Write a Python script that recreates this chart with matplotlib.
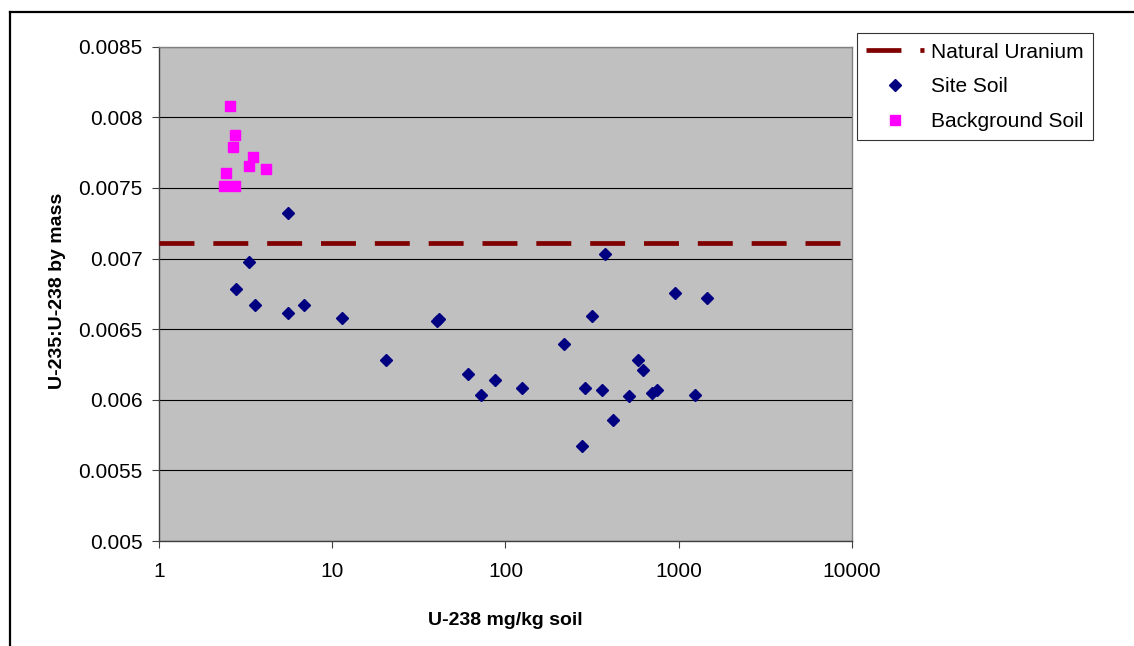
import matplotlib
matplotlib.use("Agg")
from matplotlib import pyplot as plt
from matplotlib.lines import Line2D

plt.rcParams['font.family'] = ['Liberation Sans', 'DejaVu Sans']

# dados
natural_ratio = 0.00711

site_u238 = [2.78, 3.30, 3.59, 5.56, 5.56, 6.87, 11.4, 20.5, 40.5, 41.5,
             60.5, 71.9, 87.4, 123.8, 218, 278, 289, 315, 360, 376,
             418, 519, 580, 620, 703, 752, 955, 1240, 1448]
site_ratio = [0.006786, 0.006973, 0.00667, 0.00732, 0.006616, 0.00667, 0.00658, 0.006279, 0.006555, 0.00657,
              0.006184, 0.006035, 0.00614, 0.00608, 0.006392, 0.005674, 0.00608, 0.00659, 0.006069, 0.007032,
              0.005858, 0.006024, 0.006279, 0.006208, 0.006045, 0.00607, 0.006753, 0.006033, 0.006718]

bg_u238 = [2.56, 2.74, 2.68, 3.48, 3.33, 4.13, 2.45, 2.36, 2.74]
bg_ratio = [0.00808, 0.007875, 0.00779, 0.00772, 0.007653, 0.007632, 0.007606, 0.007513, 0.007513]

x_ticks = [1, 10, 100, 1000, 10000]
x_labels = ['1', '10', '100', '1000', '10000']
y_ticks = [0.005, 0.0055, 0.006, 0.0065, 0.007, 0.0075, 0.008, 0.0085]
y_labels = ['0.005', '0.0055', '0.006', '0.0065', '0.007', '0.0075', '0.008', '0.0085']

fig = plt.figure(figsize=(11.34, 6.46), dpi=100)
ax = fig.add_axes([0.1402, 0.1625, 0.6111, 0.7652])
ax.set_facecolor('#C0C0C0')

# linha do uranio natural
ax.axhline(natural_ratio, color='#800000', linewidth=3.4, dashes=(7.4, 4.0),
           solid_capstyle='butt', dash_capstyle='butt', label='Natural Uranium', zorder=3)
ax.plot(site_u238, site_ratio, linestyle='none', marker='D', markersize=6.3,
        color='#000080', label='Site Soil', zorder=4)
ax.plot(bg_u238, bg_ratio, linestyle='none', marker='s', markersize=7.2,
        color='#FF00FF', label='Background Soil', zorder=4)

ax.set_xscale('log')
ax.set_xlim(1, 10000)
ax.set_ylim(0.005, 0.0085)
ax.set_xticks(x_ticks)
ax.set_xticklabels(x_labels)
ax.minorticks_off()
ax.set_yticks(y_ticks)
ax.set_yticklabels(y_labels)
ax.tick_params(axis='both', labelsize=15, length=5, width=0.8, color='#404040')
ax.tick_params(axis='y', pad=7)
ax.tick_params(axis='x', pad=10)

ax.grid(axis='y', color='black', linewidth=0.8)
ax.set_axisbelow(True)
for s in ['left', 'bottom']:
    ax.spines[s].set_color('#404040')
    ax.spines[s].set_linewidth(1.0)
for s in ['top', 'right']:
    ax.spines[s].set_color('#808080')
    ax.spines[s].set_linewidth(1.0)

fig.text(0.4458, 0.0402, 'U-238 mg/kg soil', ha='center', va='center',
         fontsize=14, fontweight='bold')
fig.text(0.0503, 0.5495, 'U-235:U-238 by mass', ha='center', va='center',
         rotation=90, fontsize=14, fontweight='bold')

leg = fig.legend(loc='upper left', bbox_to_anchor=(0.7555, 0.9485), borderaxespad=0,
                 fontsize=15, frameon=True, fancybox=False, handlelength=2.8,
                 handletextpad=0.3, labelspacing=0.75, borderpad=0.45)
leg.get_frame().set_edgecolor('black')
leg.get_frame().set_linewidth(0.8)

# moldura externa (topo e esquerda)
fig.add_artist(Line2D([0.00882, 1.0], [0.9814, 0.9814], color='black', linewidth=1.6,
                      transform=fig.transFigure))
fig.add_artist(Line2D([0.00882, 0.00882], [0.0, 0.9814], color='black', linewidth=1.6,
                      transform=fig.transFigure))

fig.savefig('out.png', dpi=100)
